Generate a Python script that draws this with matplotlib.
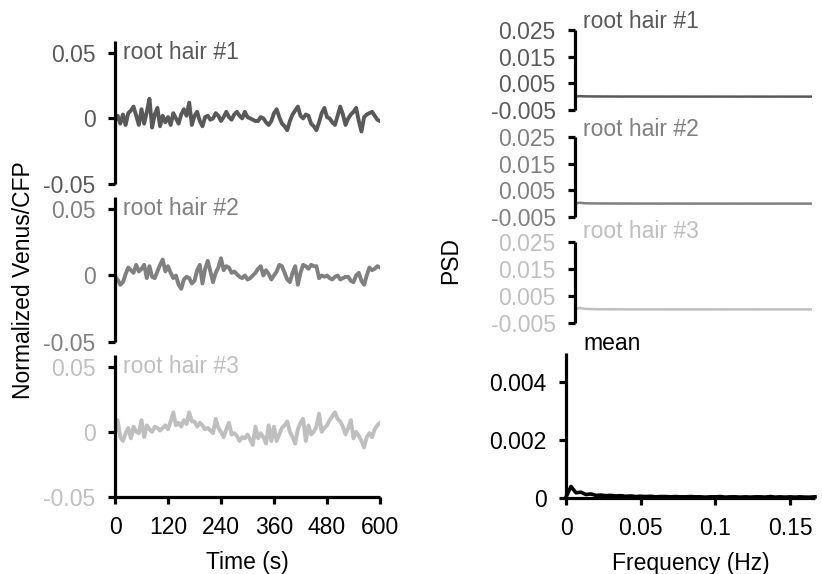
import numpy as np
import matplotlib
matplotlib.use("Agg")
import matplotlib.pyplot as plt

plt.rcParams['font.family'] = ['Liberation Sans', 'DejaVu Sans']

# ---- data (time traces, x1e-3, sampled every 6 s) ----
trace1 = [-2, 2, -4, 3, -5, 4, 6, 9, 2, -5, 7, -4, 5, 15, -7, 3, 8, -6, 2, -3,
          1, -5, 4, 0, -4, 3, 7, 2, 12, -5, 2, 5, -2, -6, 1, 2, -1, 0, 4, 2,
          -2, 1, 5, 1, -1, 3, 5, 2, 0, 5, 1, 0, -1, -2, -2, 1, 0, -3, -5, -2,
          4, 7, 1, -4, -6, -9, -2, 3, 6, 9, 2, 0, 3, 2, -4, -6, -9, -3, 4, 8,
          1, 0, -3, -5, 2, 9, 3, -5, 0, 3, 5, 8, -2, -10, 1, 3, 4, 5, 2, -1, -2]
trace2 = [-1, -3, -7, -5, 1, 6, 4, 2, 8, 3, 5, 8, -2, 7, -1, -2, 3, 8, 12, 3,
          7, 2, -2, 0, -7, -10, -3, -1, -2, -6, -4, 4, 8, -6, 5, 11, 3, -5, 2, 6,
          13, 4, 7, 6, 2, 3, 1, -1, -2, 0, -3, -2, 0, 2, 5, 7, 0, 4, 1, -3,
          0, 3, 8, 7, 2, -3, -5, 2, 7, -7, 2, 8, 7, 5, 8, 7, 7, -2, 0, -1,
          0, -2, -3, -1, 0, -3, -2, -1, -1, -4, -5, 0, 2, -4, -7, 0, 6, 4, 5, 7, 6]
trace3 = [-1, 9, -4, -7, -1, 3, -5, 4, 0, -1, 9, -4, 5, 2, 0, 4, 3, 1, 3, 5,
          2, 8, 15, 5, 7, 4, 9, 6, 15, 8, 8, 4, 7, 5, 2, 3, 1, -1, 10, 3,
          0, -4, 2, 7, -2, -1, -3, -7, -4, -5, -2, -6, -10, 4, -5, -1, -4, -9, 5, -7,
          4, -7, -2, 3, 5, 8, 0, -4, -9, 2, 7, 10, -7, 5, -2, 0, 4, 14, 0, 3,
          5, 9, 12, 15, 10, 8, 4, -2, 3, 9, -5, 0, -3, -7, -12, -4, -1, -4, 2, 5, 7]
time_step = 6  # s

# ---- PSD data (x1e-5, frequency step 1/300 Hz) ----
psd1 = [2, 20, 12, 10, 8, 9, 6, 7, 5, 6, 4, 5, 4, 5, 3, 4, 4, 3, 4, 3, 3, 4, 3, 3, 2, 3,
        3, 2, 3, 3, 2, 3, 2, 3, 2, 2, 3, 2, 2, 3, 2, 2, 2, 3, 2, 2, 2, 2, 2, 2, 2]
psd2 = [3, 35, 15, 12, 9, 8, 7, 6, 6, 5, 5, 4, 5, 4, 4, 3, 4, 3, 3, 3, 4, 3, 3, 2, 3, 3,
        2, 3, 2, 2, 3, 2, 2, 3, 2, 2, 2, 3, 2, 2, 2, 2, 2, 2, 3, 2, 2, 2, 2, 2, 2]
psd3 = [4, 60, 25, 18, 14, 10, 9, 8, 7, 6, 6, 5, 5, 5, 4, 4, 4, 3, 4, 3, 3, 3, 3, 3, 3, 2,
        3, 2, 3, 2, 2, 3, 2, 2, 2, 2, 2, 2, 3, 2, 2, 2, 2, 2, 2, 2, 2, 2, 2, 2, 2]
psd_mean = [3, 40, 18, 20, 12, 14, 9, 10, 8, 9, 7, 8, 6, 7, 5, 6, 5, 6, 4, 5, 5, 4, 5, 4, 4, 5,
            4, 4, 3, 4, 4, 5, 3, 4, 4, 3, 4, 3, 4, 4, 3, 5, 3, 4, 3, 4, 3, 4, 3, 3, 4]
freq_step = 1 / 300

labels = ["root hair #1", "root hair #2", "root hair #3"]
colors = ["#595959", "#808080", "#bfbfbf"]
left_yticks = [-0.05, 0, 0.05]
left_yticklabels = ["-0.05", "0", "0.05"]
time_ticks = [0, 120, 240, 360, 480, 600]
right_yticks = [-0.005, 0.005, 0.015, 0.025]
right_yticklabels = ["-0.005", "0.005", "0.015", "0.025"]
mean_yticks = [0, 0.002, 0.004]
mean_yticklabels = ["0", "0.002", "0.004"]
freq_ticks = [0, 0.05, 0.1, 0.15]
freq_ticklabels = ["0", "0.05", "0.1", "0.15"]

FS = 16.5
W, H = 822, 574
fig = plt.figure(figsize=(W / 100, H / 100), dpi=100)


def box(x0, top, x1, bottom):
    return [x0 / W, 1 - bottom / H, (x1 - x0) / W, (bottom - top) / H]


def style(ax, bottom=False):
    for s in ['top', 'right']:
        ax.spines[s].set_visible(False)
    ax.spines['bottom'].set_visible(bottom)
    for s in ['left', 'bottom']:
        ax.spines[s].set_linewidth(2.3)
        ax.spines[s].set_color('black')
        ax.spines[s].set_capstyle('butt')
    ax.tick_params(axis='both', direction='out', length=5, width=2.3,
                   color='black', labelsize=FS, pad=9)
    if not bottom:
        ax.set_xticks([])
    ax.patch.set_visible(False)


# ---- left panels ----
left_boxes = [(115, 41, 380, 184), (115, 197, 380, 342), (115, 355, 380, 497)]
traces = [trace1, trace2, trace3]
for i, (tr, b) in enumerate(zip(traces, left_boxes)):
    ax = fig.add_axes(box(*b))
    vals = np.array(tr) * 1e-3
    t = np.arange(len(vals)) * time_step
    ax.plot(t, vals, color=colors[i], lw=2.8, solid_joinstyle='round')
    ax.set_xlim(0, 600)
    ax.set_ylim(-0.05, 0.059)
    last = (i == 2)
    style(ax, bottom=last)
    ax.set_yticks(left_yticks)
    ax.set_yticklabels(left_yticklabels, color=colors[i])
    if last:
        ax.set_xticks(time_ticks)
        ax.set_xticklabels([str(v) for v in time_ticks], color='black')
        ax.set_xlabel("Time (s)", fontsize=FS, labelpad=8)
    ax.text(0.03, 1.0, labels[i], transform=ax.transAxes, ha='left', va='top',
            fontsize=FS, color=colors[i])

fig.text(24 / W, 1 - 280 / H, "Normalized Venus/CFP", rotation=90,
         ha='center', va='center', fontsize=FS)

# ---- right upper panels ----
right_boxes = [(575, 30, 812, 110), (575, 137, 812, 217), (575, 242, 812, 323)]
baselines = [28, 136, 238]
psds = [psd1, psd2, psd3]
for i, (p, b) in enumerate(zip(psds, right_boxes)):
    ax = fig.add_axes(box(*b))
    vals = np.array(p) * 1e-5
    f = np.arange(len(vals)) * freq_step
    ax.plot(f, vals, color=colors[i], lw=1.8)
    ax.set_xlim(0, 50 * freq_step)
    ax.set_ylim(-0.005, 0.025)
    style(ax)
    ax.set_yticks(right_yticks)
    ax.set_yticklabels(right_yticklabels, color=colors[i])
    fig.text(583 / W, 1 - baselines[i] / H, labels[i], ha='left', va='baseline',
             fontsize=FS, color=colors[i])

fig.text(451 / W, 1 - 260 / H, "PSD", rotation=90, ha='center', va='center', fontsize=FS)

# ---- mean panel ----
ax = fig.add_axes(box(566, 353, 815, 498))
vals = np.array(psd_mean) * 1e-5
f = np.arange(len(vals)) * freq_step
ax.plot(f, vals, color='black', lw=2.6, clip_on=False)
ax.set_xlim(0, 50 * freq_step)
ax.set_ylim(0, 0.005)
style(ax, bottom=True)
ax.set_yticks(mean_yticks)
ax.set_yticklabels(mean_yticklabels)
ax.set_xticks(freq_ticks)
ax.set_xticklabels(freq_ticklabels)
ax.set_xlabel("Frequency (Hz)", fontsize=FS, labelpad=8)
fig.text(583 / W, 1 - 350 / H, "mean", ha='left', va='baseline',
         fontsize=FS, color='black')

fig.savefig("out.png", dpi=100)
